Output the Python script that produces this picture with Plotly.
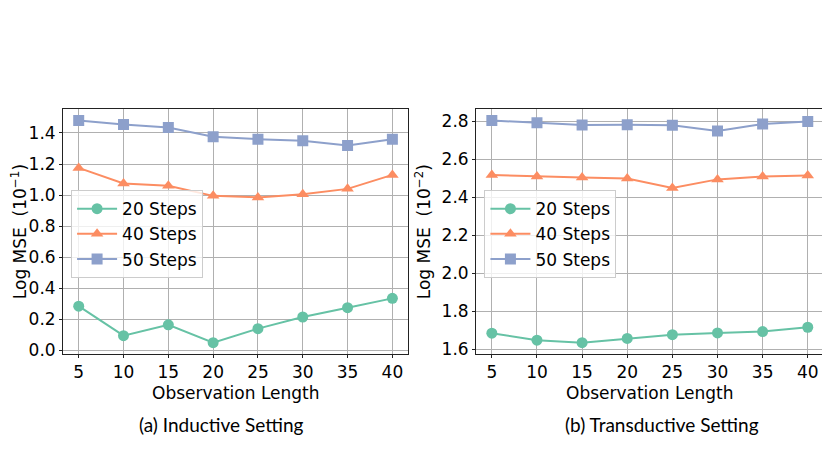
import plotly.graph_objects as go

obs_len = [5, 10, 15, 20, 25, 30, 35, 40]
series_names = ["20 Steps", "40 Steps", "50 Steps"]

ind_20 = [0.285, 0.095, 0.165, 0.050, 0.140, 0.215, 0.275, 0.335]
ind_40 = [1.175, 1.075, 1.060, 0.995, 0.985, 1.005, 1.040, 1.130]
ind_50 = [1.480, 1.455, 1.435, 1.375, 1.360, 1.350, 1.320, 1.360]

tra_20 = [1.685, 1.648, 1.635, 1.657, 1.677, 1.686, 1.693, 1.716]
tra_40 = [2.518, 2.510, 2.505, 2.500, 2.450, 2.495, 2.510, 2.515]
tra_50 = [2.805, 2.793, 2.782, 2.783, 2.780, 2.750, 2.787, 2.800]

colors = ["#66c2a5", "#fc8d62", "#8da0cb"]
symbols = ["circle", "triangle-up", "square"]

fig = go.Figure()

for i, (name, ys) in enumerate(zip(series_names, [ind_20, ind_40, ind_50])):
    fig.add_trace(go.Scatter(x=obs_len, y=ys, name=name, mode="lines+markers",
                             line=dict(color=colors[i], width=2),
                             marker=dict(symbol=symbols[i], size=11, color=colors[i]),
                             xaxis="x", yaxis="y", legend="legend"))
for i, (name, ys) in enumerate(zip(series_names, [tra_20, tra_40, tra_50])):
    fig.add_trace(go.Scatter(x=obs_len, y=ys, name=name, mode="lines+markers",
                             line=dict(color=colors[i], width=2),
                             marker=dict(symbol=symbols[i], size=11, color=colors[i]),
                             xaxis="x2", yaxis="y2", legend="legend2"))

tick_font = dict(family="DejaVu Sans", size=17, color="black")
title_font = dict(family="DejaVu Sans", size=17, color="black")
ytitle_font = dict(family="DejaVu Sans", size=17, color="black")
axis_common = dict(showgrid=True, gridcolor="#b0b0b0", gridwidth=1,
                   showline=True, mirror=True, linecolor="#222222", linewidth=1,
                   ticks="outside", ticklen=3, tickcolor="#222222",
                   tickfont=tick_font, zeroline=False)

ydom = [0.2484, 0.7795]
leg_font = dict(family="DejaVu Sans", size=17, color="black")

fig.update_layout(
    width=830, height=467,
    margin=dict(l=0, r=0, t=0, b=0),
    plot_bgcolor="white", paper_bgcolor="white",
    xaxis=dict(domain=[0.0663, 0.4820], range=[3.25, 41.75], tickvals=obs_len,
               anchor="y", **axis_common),
    yaxis=dict(domain=ydom, range=[-0.0215, 1.5515], dtick=0.2, tickformat=".1f",
               title=dict(text="Log MSE  (10<sup>−1</sup>)", font=ytitle_font, standoff=6),
               anchor="x", **axis_common),
    xaxis2=dict(domain=[0.5639, 0.9826], range=[3.25, 41.75], tickvals=obs_len,
                anchor="y2", **axis_common),
    yaxis2=dict(domain=ydom, range=[1.5765, 2.8635], dtick=0.2, tickformat=".1f",
                title=dict(text="Log MSE  (10<sup>−2</sup>)", font=ytitle_font, standoff=6),
                anchor="x2", **axis_common),
    legend=dict(x=0.076, y=0.604, xanchor="left", yanchor="top",
                bgcolor="rgba(255,255,255,0.8)", bordercolor="#cccccc", borderwidth=1,
                font=leg_font, itemwidth=40, tracegroupgap=0),
    legend2=dict(x=0.574, y=0.604, xanchor="left", yanchor="top",
                 bgcolor="rgba(255,255,255,0.8)", bordercolor="#cccccc", borderwidth=1,
                 font=leg_font, itemwidth=40, tracegroupgap=0),
    annotations=[
        dict(text="Observation Length", x=0.5, y=1 - 391 / 467, xref="x domain", yref="paper",
             xanchor="center", yanchor="middle", showarrow=False, font=title_font),
        dict(text="Observation Length", x=0.5, y=1 - 391 / 467, xref="x2 domain", yref="paper",
             xanchor="center", yanchor="middle", showarrow=False, font=title_font),
        dict(text="(a) Inductive Setting", x=213 / 830, y=1 - 423 / 467, xref="paper", yref="paper",
             xanchor="center", yanchor="middle",
             showarrow=False, font=dict(family="Lato", size=19, color="black")),
        dict(text="(b) Transductive Setting", x=654 / 830, y=1 - 423 / 467, xref="paper", yref="paper",
             xanchor="center", yanchor="middle",
             showarrow=False, font=dict(family="Lato", size=19, color="black")),
    ],
)

fig.write_html("out.html")
